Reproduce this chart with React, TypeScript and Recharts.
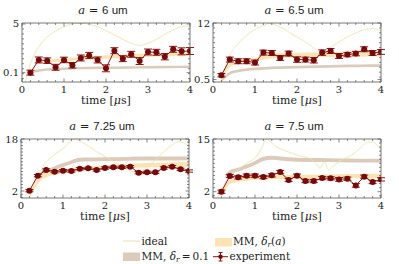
import React from 'react';
import { ComposedChart, Line, Area, XAxis, YAxis, ErrorBar } from 'recharts';

// ---------- data ----------
const time = [0.2, 0.4, 0.6, 0.8, 1.0, 1.2, 1.4, 1.6, 1.8, 2.0, 2.2, 2.4, 2.6, 2.8, 3.0, 3.2, 3.4, 3.6, 3.8, 4.0];

const exp1 = [0.10, 1.38, 1.31, 0.64, 1.38, 0.84, 1.58, 1.84, 1.38, 0.54, 2.31, 1.51, 1.95, 1.27, 2.18, 2.15, 1.71, 2.45, 2.25, 2.28];
const err1 = [0.25, 0.3, 0.28, 0.3, 0.28, 0.28, 0.3, 0.3, 0.3, 0.35, 0.3, 0.3, 0.3, 0.35, 0.3, 0.3, 0.32, 0.3, 0.35, 0.35];
const exp2 = [1.38, 4.56, 4.22, 4.22, 3.95, 5.98, 5.91, 4.90, 5.78, 4.56, 4.56, 4.42, 5.98, 6.32, 5.30, 5.57, 5.78, 6.66, 5.91, 6.12];
const err2 = [0.35, 0.5, 0.5, 0.5, 0.5, 0.5, 0.5, 0.5, 0.5, 0.55, 0.5, 0.55, 0.55, 0.5, 0.5, 0.45, 0.45, 0.5, 0.5, 0.5];
const exp3 = [2.10, 6.72, 8.46, 7.95, 8.26, 8.15, 8.87, 8.97, 8.46, 9.08, 9.28, 9.28, 9.49, 7.64, 7.74, 7.74, 9.08, 9.49, 8.67, 8.15];
const err3 = [0.35, 0.35, 0.35, 0.35, 0.35, 0.35, 0.35, 0.35, 0.35, 0.35, 0.35, 0.35, 0.35, 0.35, 0.35, 0.35, 0.35, 0.35, 0.35, 0.35];
const exp4 = [2.0, 5.87, 5.54, 5.95, 5.95, 5.62, 6.03, 6.85, 4.88, 5.95, 4.63, 4.63, 5.37, 5.29, 5.04, 5.21, 3.56, 5.70, 4.39, 5.04];
const err4 = [0.4, 0.4, 0.4, 0.4, 0.4, 0.4, 0.4, 0.4, 0.4, 0.4, 0.4, 0.4, 0.4, 0.4, 0.45, 0.4, 0.45, 0.4, 0.4, 0.4];

const idealT1 = [0.08, 0.2, 0.3, 0.4, 0.6, 0.8, 1.0, 1.2, 1.4, 1.6, 1.8, 2.0, 2.2, 2.4, 2.6, 2.8, 3.0, 3.2, 3.4, 3.6, 3.8, 3.9, 4.0];
const ideal1 = [-0.84, 1.0, 2.0, 2.7, 3.7, 4.3, 4.73, 5.0, 5.07, 4.97, 4.73, 4.33, 3.9, 3.46, 3.05, 2.85, 3.05, 3.46, 3.96, 4.4, 4.73, 4.8, 4.66];
const idealT2 = [0.2, 0.3, 0.4, 0.6, 0.8, 1.0, 1.2, 1.35, 1.6, 1.8, 2.0, 2.2, 2.4, 2.55, 2.8, 3.0, 3.2, 3.4, 3.6, 3.8, 4.0];
const ideal2 = [0, 3.0, 5.4, 7.8, 9.5, 10.65, 11.5, 11.9, 11.2, 10.2, 9.16, 8.15, 6.93, 6.1, 7.1, 8.15, 9.16, 9.97, 10.65, 10.85, 10.4];
const idealT3 = [0.2, 0.4, 0.6, 0.8, 1.0, 1.2, 1.3, 1.5, 1.8, 2.0, 2.2, 2.4, 2.6, 2.8, 3.0, 3.2, 3.4, 3.6, 3.75, 3.9, 4.0];
const ideal3 = [0, 6.8, 10.8, 13.3, 15.0, 17.5, 18.0, 16.7, 14.1, 12.6, 11.0, 9.5, 8.2, 7.9, 9.5, 11.5, 14.1, 16.2, 17.2, 16.7, 15.6];
const idealT4 = [0.12, 0.2, 0.4, 0.6, 0.8, 1.0, 1.15, 1.27, 1.5, 1.8, 2.0, 2.3, 2.45, 2.55, 2.65, 2.75, 2.85, 3.05, 3.3, 3.5, 3.7, 3.8, 4.0];
const ideal4 = [0.45, 2.5, 5.7, 7.5, 9.0, 10.3, 12.5, 15.0, 13.1, 11.8, 11.0, 10.2, 9.0, 7.8, 9.4, 7.4, 8.2, 9.8, 11.0, 12.7, 14.3, 14.2, 12.3];

const bandT = [0.2, 0.3, 0.4, 0.6, 0.8, 1.0, 1.2, 1.4, 1.6, 2.0, 2.5, 3.0, 3.5, 4.0];

const orangeLo1 = [null, 0.95, 1.05, 1.12, 1.18, 1.22, 1.3, 1.35, 1.4, 1.5, 1.6, 1.68, 1.74, 1.78];
const orangeHi1 = [null, 1.2, 1.3, 1.4, 1.48, 1.52, 1.6, 1.65, 1.7, 1.85, 1.95, 2.02, 2.08, 2.14];
const brownLo1 = [0.05, 0.12, 0.2, 0.3, 0.35, 0.38, 0.42, 0.44, 0.45, 0.47, 0.5, 0.52, 0.55, 0.57];
const brownHi1 = [0.3, 0.38, 0.45, 0.55, 0.6, 0.63, 0.66, 0.68, 0.7, 0.72, 0.75, 0.78, 0.8, 0.83];

const orangeLo2 = [0.2, 2.0, 3.0, 3.7, 4.0, 4.2, 4.6, 4.8, 4.9, 5.0, 5.05, 5.1, 5.15, 5.2];
const orangeHi2 = [0.8, 2.8, 3.8, 4.4, 4.7, 4.9, 5.6, 5.8, 5.9, 5.95, 6.0, 6.05, 6.1, 6.1];
const brownLo2 = [0, 0.8, 1.5, 2.0, 2.25, 2.4, 2.5, 2.6, 2.65, 2.75, 2.85, 2.95, 3.0, 3.05];
const brownHi2 = [0.6, 1.4, 2.1, 2.55, 2.8, 2.95, 3.05, 3.15, 3.2, 3.3, 3.4, 3.5, 3.55, 3.6];

const orangeLo3 = [0, 2.0, 4.2, 6.2, 7.0, 7.4, 7.7, 8.0, 8.3, 8.7, 9.0, 9.2, 9.4, 9.5];
const orangeHi3 = [1.5, 3.5, 5.7, 7.6, 8.3, 8.6, 8.9, 9.2, 9.5, 9.9, 10.3, 10.6, 10.8, 11.0];
const brownLo3 = [null, null, 6.6, 7.4, 8.4, 9.4, 10.3, 11.0, 11.1, 11.2, 11.3, 11.4, 11.4, 11.5];
const brownHi3 = [null, null, 7.4, 8.5, 9.6, 10.6, 11.5, 12.2, 12.3, 12.4, 12.5, 12.6, 12.6, 12.6];

const orangeLo4 = [0.5, 2.5, 3.9, 4.4, 4.7, 4.9, 5.0, 5.05, 5.1, 5.1, 5.2, 5.25, 5.3, 5.3];
const orangeHi4 = [1.8, 3.8, 4.9, 5.4, 5.7, 5.9, 6.0, 6.05, 6.1, 6.15, 6.2, 6.3, 6.35, 6.4];
const brownLo4 = [null, 5.5, 6.4, 7.0, 7.7, 8.6, 9.6, 9.9, 9.7, 9.4, 9.3, 9.25, 9.2, 9.2];
const brownHi4 = [null, 6.3, 7.3, 7.9, 8.7, 9.6, 10.6, 10.9, 10.7, 10.4, 10.3, 10.2, 10.15, 10.1];

const titles = ['6', '6.5', '7.25', '7.5'];
const yDomains: [number, number][] = [[-0.84, 5.1], [0, 12], [-0.15, 18], [0.45, 15]];
const yMajors = [[0.1, 5], [0.5, 12], [2, 18], [2, 15]];
const yMinorStep = [0.5, 1, 1, 1];
const xMajors = [0, 1, 2, 3, 4];
const xMinorStep = 0.2;

// ---------- helpers ----------
const range = (a: number, b: number, s: number) => {
  const out: number[] = [];
  for (let v = a; v <= b + 1e-9; v += s) out.push(Math.round(v * 1000) / 1000);
  return out;
};

const series = (xs: number[], ys: (number | null)[]) =>
  xs.map((t, i) => ({ t, v: ys[i] })).filter((d) => d.v !== null);

const bandSeries = (xs: number[], lo: (number | null)[], hi: (number | null)[]) =>
  xs.map((t, i) => ({ t, r: lo[i] === null ? null : [lo[i], hi[i]] })).filter((d) => d.r !== null);

const expSeries = (ys: number[], es: number[]) => time.map((t, i) => ({ t, v: ys[i], e: es[i] }));

const panels = [
  { exp: expSeries(exp1, err1), ideal: series(idealT1, ideal1), orange: bandSeries(bandT, orangeLo1, orangeHi1), brown: bandSeries(bandT, brownLo1, brownHi1) },
  { exp: expSeries(exp2, err2), ideal: series(idealT2, ideal2), orange: bandSeries(bandT, orangeLo2, orangeHi2), brown: bandSeries(bandT, brownLo2, brownHi2) },
  { exp: expSeries(exp3, err3), ideal: series(idealT3, ideal3), orange: bandSeries(bandT, orangeLo3, orangeHi3), brown: bandSeries(bandT, brownLo3, brownHi3) },
  { exp: expSeries(exp4, err4), ideal: series(idealT4, ideal4), orange: bandSeries(bandT, orangeLo4, orangeHi4), brown: bandSeries(bandT, brownLo4, brownHi4) },
];

// ---------- styling ----------
const SERIF = '"DejaVu Serif", "Liberation Serif", "Noto Serif", serif';
const SANS = '"Liberation Sans", "DejaVu Sans", sans-serif';
const FRAME = '#555';
const IDEAL = '#e8e1a8';
const ORANGE = '#fde3b3';
const BROWN = '#dccbba';
const EXP = '#8a1515';
const EXP_FILL = '#760a0a';
const serifStyle = { fontFamily: SERIF };
const sansStyle = { fontFamily: SANS };

const isMajor = (v: number, majors: number[]) => majors.some((m) => Math.abs(m - v) < 1e-6);

const makeTick = (side: 'bottom' | 'top' | 'left' | 'right', majors: number[], labels: boolean) => (props: any) => {
  const { x, y, payload } = props;
  const v = payload.value as number;
  const major = isMajor(v, majors);
  const len = major ? 3.5 : 2;
  let line;
  if (side === 'bottom') line = <line x1={x} y1={y} x2={x} y2={y - len} stroke={FRAME} strokeWidth={0.7} />;
  else if (side === 'top') line = <line x1={x} y1={y} x2={x} y2={y + len} stroke={FRAME} strokeWidth={0.7} />;
  else if (side === 'left') line = <line x1={x} y1={y} x2={x + len} y2={y} stroke={FRAME} strokeWidth={0.7} />;
  else line = <line x1={x} y1={y} x2={x - len} y2={y} stroke={FRAME} strokeWidth={0.7} />;
  let label = null;
  if (labels && major) {
    if (side === 'bottom')
      label = (
        <text x={x} y={y + 10.5} textAnchor="middle" fontSize={10} style={serifStyle} fill="#222">
          {String(v)}
        </text>
      );
    else if (side === 'left')
      label = (
        <text x={x - 3} y={y + 3.5} textAnchor="end" fontSize={10} style={serifStyle} fill="#222">
          {String(v)}
        </text>
      );
  }
  return (
    <g>
      {line}
      {label}
    </g>
  );
};

const PW = 168;
const PH = 59;
const plotPos = [
  { x: 22, y: 23 },
  { x: 213, y: 23 },
  { x: 21, y: 139 },
  { x: 213, y: 139 },
];

function Panel({ idx }: { idx: number }) {
  const p = panels[idx];
  const pos = plotPos[idx];
  const dom = yDomains[idx];
  const yT = Array.from(new Set([...range(Math.ceil(dom[0] / yMinorStep[idx]) * yMinorStep[idx], dom[1], yMinorStep[idx]), ...yMajors[idx]])).sort((a, b) => a - b);
  const xT = range(0, 4, xMinorStep);
  const W = PW + 32;
  const H = PH + 56;
  return (
    <div style={{ position: 'absolute', left: pos.x - 22, top: pos.y - 23, width: W, height: H }}>
      <ComposedChart width={W} height={H} margin={{ top: 22, right: 9, bottom: 13, left: 2 }}>
        <XAxis xAxisId="b" dataKey="t" type="number" domain={[0, 4]} allowDataOverflow ticks={xT} interval={0}
          orientation="bottom" height={20} tickSize={0} tickMargin={0} tickLine={false}
          axisLine={{ stroke: FRAME, strokeWidth: 0.8 }} tick={makeTick('bottom', xMajors, true)} />
        <XAxis xAxisId="top" dataKey="t" type="number" domain={[0, 4]} allowDataOverflow ticks={xT} interval={0}
          orientation="top" height={1} tickSize={0} tickMargin={0} tickLine={false}
          axisLine={{ stroke: FRAME, strokeWidth: 0.8 }} tick={makeTick('top', xMajors, false)} />
        <YAxis yAxisId="l" type="number" domain={dom} allowDataOverflow ticks={yT} interval={0}
          orientation="left" width={20} tickSize={0} tickMargin={0} tickLine={false}
          axisLine={{ stroke: FRAME, strokeWidth: 0.8 }} tick={makeTick('left', yMajors[idx], true)} />
        <YAxis yAxisId="r" type="number" domain={dom} allowDataOverflow ticks={yT} interval={0}
          orientation="right" width={1} tickSize={0} tickMargin={0} tickLine={false}
          axisLine={{ stroke: FRAME, strokeWidth: 0.8 }} tick={makeTick('right', yMajors[idx], false)} />
        <Area xAxisId="b" yAxisId="l" data={p.brown} dataKey="r" type="monotone" stroke="none" fill={BROWN} fillOpacity={1} isAnimationActive={false} />
        <Area xAxisId="b" yAxisId="l" data={p.orange} dataKey="r" type="monotone" stroke="none" fill={ORANGE} fillOpacity={1} isAnimationActive={false} />
        <Line xAxisId="b" yAxisId="l" data={p.ideal} dataKey="v" type="monotone" stroke={IDEAL} strokeWidth={0.8} dot={false} isAnimationActive={false} />
        <Line xAxisId="b" yAxisId="l" data={p.exp} dataKey="v" type="linear" stroke={EXP} strokeWidth={1}
          dot={{ r: 3, fill: EXP_FILL, stroke: EXP_FILL, strokeWidth: 0 }} isAnimationActive={false}>
          <ErrorBar dataKey="e" direction="y" width={4} stroke={EXP} strokeWidth={1} />
        </Line>
      </ComposedChart>
    </div>
  );
}

const Delta = () => (
  <>
    <tspan fontStyle="italic">δ</tspan>
    <tspan fontStyle="italic" fontSize={7.5} dy={2}>r</tspan>
  </>
);

export default function App() {
  return (
    <div style={{ position: 'absolute', left: 0, top: 0, width: 399, height: 264, background: '#fff', overflow: 'hidden' }}>
      {[0, 1, 2, 3].map((i) => (
        <Panel key={i} idx={i} />
      ))}
      <svg width={399} height={264} style={{ position: 'absolute', left: 0, top: 0, pointerEvents: 'none' }}>
        {plotPos.map((pos, i) => (
          <g key={i}>
            <text x={pos.x + PW / 2 - 3} y={pos.y - 9} textAnchor="middle" fontSize={11.5} fill="#222">
              <tspan style={serifStyle} fontStyle="italic">a</tspan>
              <tspan style={serifStyle}> = </tspan>
              <tspan style={sansStyle}>{titles[i]} um</tspan>
            </text>
            <text x={pos.x + PW / 2} y={pos.y + PH + 22} textAnchor="middle" fontSize={11} style={serifStyle} fill="#222">
              time [<tspan fontStyle="italic">μ</tspan>s]
            </text>
          </g>
        ))}
        {/* legend */}
        <line x1={123} y1={241} x2={140} y2={241} stroke={IDEAL} strokeWidth={1} />
        <text x={141.5} y={244.5} fontSize={10.5} style={serifStyle} fill="#222">ideal</text>
        <rect x={215} y={238} width={17} height={8.5} fill={ORANGE} />
        <text x={233} y={244.5} fontSize={10.5} style={serifStyle} fill="#222">
          MM, <Delta /><tspan dy={-2}>(</tspan><tspan fontStyle="italic">a</tspan>)
        </text>
        <rect x={123} y={252.5} width={17} height={8.5} fill={BROWN} />
        <text x={141.5} y={259.5} fontSize={10.5} style={serifStyle} fill="#222">
          MM, <Delta /><tspan dy={-2}>{'\u2009=\u20090.1'}</tspan>
        </text>
        <line x1={213} y1={256.7} x2={228} y2={256.7} stroke={EXP} strokeWidth={1} />
        <line x1={220.5} y1={252.5} x2={220.5} y2={261} stroke={EXP} strokeWidth={1} />
        <line x1={218.5} y1={252.5} x2={222.5} y2={252.5} stroke={EXP} strokeWidth={1} />
        <line x1={218.5} y1={261} x2={222.5} y2={261} stroke={EXP} strokeWidth={1} />
        <circle cx={220.5} cy={256.7} r={2.2} fill={EXP_FILL} />
        <text x={229.5} y={259.5} fontSize={10.5} style={serifStyle} fill="#222">experiment</text>
      </svg>
    </div>
  );
}
